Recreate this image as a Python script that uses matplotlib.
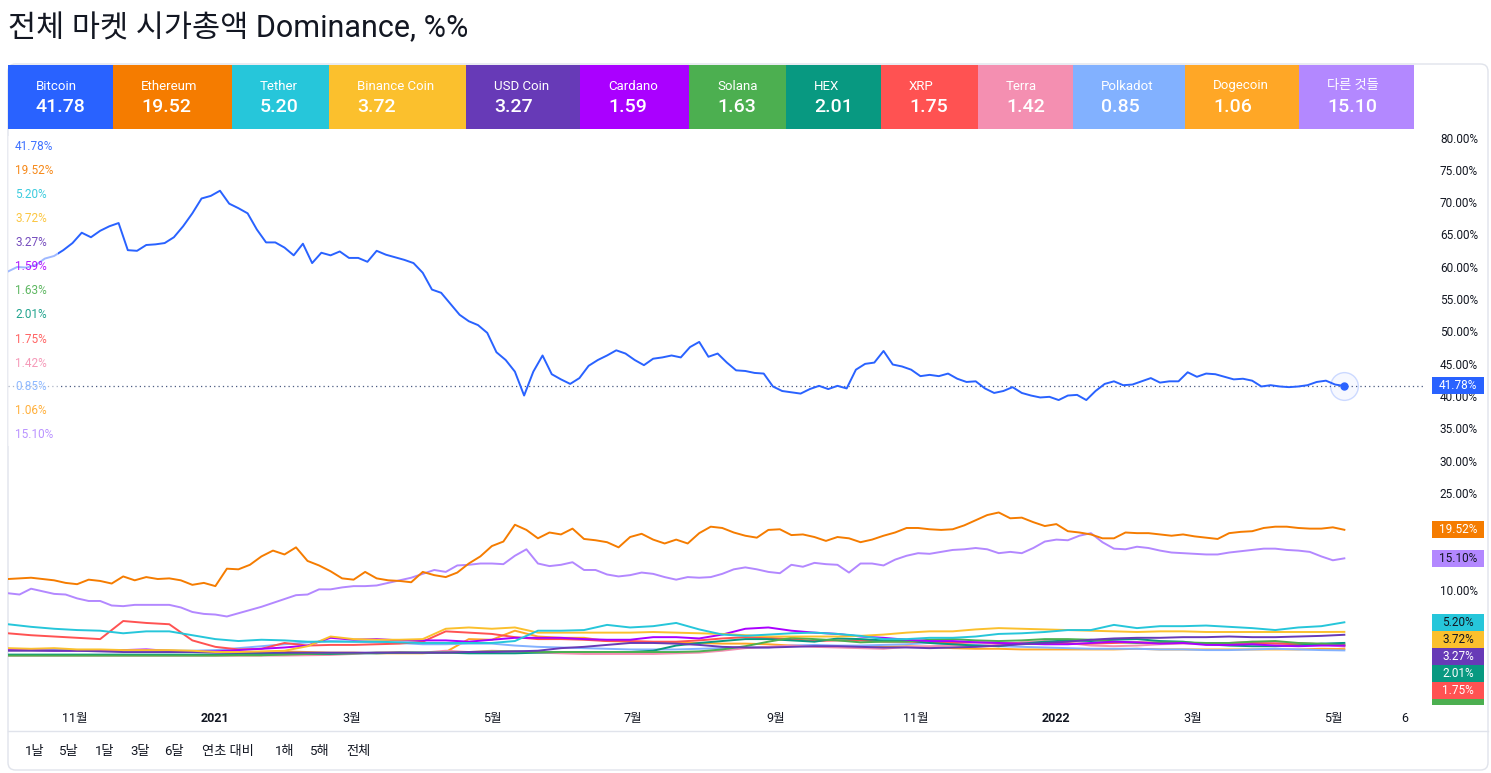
import pandas as pd
import matplotlib.pyplot as plt
from matplotlib.patches import Rectangle, FancyBboxPatch
from matplotlib.lines import Line2D

plt.rcParams['font.family'] = ['Roboto', 'Noto Sans CJK KR', 'DejaVu Sans']

# date span of every series (points are evenly spaced between these)
START, END = '2020-10-03', '2022-05-06'

names = ['Bitcoin', 'Ethereum', 'Tether', 'Binance Coin', 'USD Coin', 'Cardano', 'Solana',
         'HEX', 'XRP', 'Terra', 'Polkadot', 'Dogecoin', '다른 것들']
last_values = [41.78, 19.52, 5.20, 3.72, 3.27, 1.59, 1.63, 2.01, 1.75, 1.42, 0.85, 1.06, 15.10]
colors = ['#2962FF', '#F57C00', '#26C6DA', '#FBC02D', '#673AB7', '#AA00FF', '#4CAF50',
          '#089981', '#FF5252', '#F48FB1', '#82B1FF', '#FFA726', '#B388FF']
dark_text = {'Tether', 'Binance Coin', 'Terra', 'Polkadot', 'Dogecoin', '다른 것들'}

# dominance, %
btc = [59.5, 60.2, 60.1, 60.5, 61.5, 61.9, 62.8, 63.9, 65.5, 64.8,
       65.8, 66.5, 67.0, 62.8, 62.7, 63.6, 63.7, 63.9, 64.8, 66.5,
       68.5, 70.8, 71.2, 72.0, 70.0, 69.3, 68.5, 66.0, 64.0, 64.0,
       63.2, 62.0, 63.8, 60.8, 62.4, 62.0, 62.6, 61.6, 61.6, 61.0,
       62.7, 62.1, 61.7, 61.3, 60.8, 59.3, 56.7, 56.2, 54.5, 52.8,
       51.8, 51.2, 50.0, 47.0, 45.8, 44.0, 40.3, 44.0, 46.5, 43.6,
       42.8, 42.1, 43.0, 44.9, 45.8, 46.5, 47.3, 46.8, 45.8, 45.0,
       46.0, 46.2, 46.5, 46.2, 47.8, 48.6, 46.3, 46.8, 45.4, 44.2,
       44.1, 43.8, 43.7, 41.7, 41.0, 40.8, 40.6, 41.3, 41.8, 41.3,
       41.8, 41.4, 44.3, 45.2, 45.4, 47.2, 45.1, 44.8, 44.3, 43.3,
       43.5, 43.3, 43.7, 42.9, 42.4, 42.5, 41.4, 40.7, 41.0, 41.6,
       40.7, 40.3, 40.0, 40.1, 39.6, 40.3, 40.4, 39.6, 41.0, 42.1,
       42.5, 41.9, 42.0, 42.5, 43.0, 42.3, 42.5, 42.5, 43.9, 43.2,
       43.7, 43.6, 43.2, 42.8, 42.9, 42.6, 41.7, 41.9, 41.7, 41.6,
       41.7, 41.9, 42.4, 42.6, 42.0, 41.78]

eth = [11.9, 12.0, 12.1, 11.9, 11.7, 11.3, 11.1, 11.8, 11.6, 11.2,
       12.3, 11.7, 12.2, 11.9, 12.0, 11.7, 11.0, 11.3, 10.8, 13.5,
       13.4, 14.1, 15.4, 16.3, 15.7, 16.8, 14.7, 14.0, 13.1, 12.0,
       11.8, 13.0, 12.0, 11.7, 11.6, 11.4, 13.0, 12.5, 12.2, 12.9,
       14.3, 15.4, 17.0, 17.7, 20.3, 19.5, 18.2, 19.1, 18.8, 19.7,
       18.1, 17.9, 17.6, 16.8, 18.4, 18.9, 18.0, 17.4, 18.0, 17.4,
       19.0, 20.0, 19.8, 19.1, 18.6, 18.3, 19.5, 19.6, 18.7, 18.8,
       18.4, 17.8, 18.4, 18.2, 17.6, 18.0, 18.6, 19.1, 19.8, 19.8,
       19.6, 19.5, 19.6, 20.2, 21.0, 21.8, 22.2, 21.3, 21.4, 20.7,
       20.1, 20.4, 19.3, 19.1, 18.8, 18.2, 18.2, 19.1, 19.0, 19.0,
       18.8, 18.6, 18.8, 18.5, 18.3, 18.1, 19.0, 19.2, 19.3, 19.8,
       20.0, 20.0, 19.8, 19.7, 19.7, 19.9, 19.52]

others = [9.7, 9.5, 10.4, 10.0, 9.6, 9.5, 8.9, 8.5, 8.5, 7.8,
          7.7, 7.9, 7.9, 7.9, 7.9, 7.5, 6.8, 6.5, 6.4, 6.1,
          6.6, 7.1, 7.6, 8.2, 8.8, 9.4, 9.5, 10.3, 10.3, 10.6,
          10.8, 10.8, 10.9, 11.3, 11.7, 12.1, 12.7, 13.3, 13.0, 14.0,
          14.1, 14.3, 14.3, 14.2, 15.5, 16.5, 14.3, 13.9, 14.1, 14.5,
          13.3, 13.3, 12.6, 12.3, 12.5, 12.9, 12.7, 12.2, 11.8, 12.2,
          12.1, 12.2, 12.7, 13.4, 13.7, 13.4, 13.0, 12.8, 14.1, 13.8,
          14.4, 14.2, 14.1, 12.9, 14.3, 14.3, 14.0, 14.9, 15.5, 15.9,
          15.8, 16.1, 16.4, 16.5, 16.7, 16.5, 15.9, 16.1, 15.9, 16.7,
          17.7, 18.0, 17.9, 18.6, 19.0, 17.6, 16.6, 16.5, 16.9, 16.7,
          16.3, 16.0, 15.9, 15.8, 15.7, 15.7, 16.0, 16.2, 16.4, 16.6,
          16.6, 16.4, 16.3, 16.1, 15.4, 14.8, 15.1]

tether = [4.9, 4.5, 4.2, 4.0, 3.9, 3.5, 3.8, 3.8, 3.2, 2.6,
          2.3, 2.5, 2.4, 2.2, 2.2, 2.2, 2.2, 2.1, 2.0, 2.0,
          2.0, 2.0, 2.3, 3.9, 3.9, 4.0, 4.8, 4.4, 4.6, 5.1,
          4.1, 3.3, 3.1, 3.3, 3.5, 3.6, 3.4, 3.1, 2.6, 2.6,
          2.8, 2.8, 3.0, 3.4, 3.5, 3.7, 4.0, 4.0, 4.8, 4.3,
          4.6, 4.6, 4.7, 4.5, 4.3, 4.0, 4.4, 4.6, 5.2]

bnb = [1.2, 1.1, 1.2, 1.0, 1.0, 0.9, 0.9, 0.9, 0.8, 0.6,
       0.6, 0.7, 0.8, 1.5, 3.0, 2.6, 2.5, 2.5, 2.6, 4.2,
       4.4, 4.2, 4.4, 3.6, 3.6, 3.6, 3.6, 3.6, 3.7, 3.6,
       3.5, 3.4, 3.2, 3.0, 3.0, 3.0, 3.0, 3.1, 3.3, 3.6,
       3.8, 3.8, 4.1, 4.3, 4.2, 4.1, 4.0, 3.9, 3.8, 3.7,
       3.8, 3.8, 3.7, 3.7, 3.7, 3.7, 3.7, 3.7, 3.72]

usdc = [0.8, 0.8, 0.8, 0.8, 0.7, 0.6, 0.6, 0.6, 0.6, 0.5,
        0.5, 0.5, 0.5, 0.5, 0.5, 0.5, 0.5, 0.5, 0.5, 0.5,
        0.6, 0.6, 0.7, 0.8, 1.2, 1.4, 1.7, 2.0, 2.0, 1.9,
        1.7, 1.4, 1.3, 1.3, 1.4, 1.5, 1.5, 1.4, 1.3, 1.3,
        1.2, 1.3, 1.4, 1.6, 1.8, 2.0, 2.2, 2.5, 2.7, 2.8,
        2.8, 2.9, 2.9, 3.0, 2.9, 2.9, 3.0, 3.1, 3.27]

cardano = [0.9, 0.9, 0.8, 0.8, 0.8, 0.9, 1.0, 0.8, 0.7, 0.7,
           0.9, 1.1, 1.3, 1.6, 2.8, 2.5, 2.6, 2.4, 2.4, 2.4,
           2.2, 2.5, 2.8, 2.8, 2.8, 2.6, 2.5, 2.5, 2.9, 2.9,
           2.7, 3.3, 4.2, 4.4, 3.9, 3.6, 3.4, 3.0, 2.8, 2.5,
           2.3, 2.3, 2.1, 2.0, 1.9, 1.8, 1.8, 2.0, 2.2, 2.1,
           1.9, 2.0, 1.7, 1.7, 1.8, 1.6, 1.5, 1.6, 1.59]

solana = [0.05, 0.05, 0.05, 0.05, 0.05, 0.05, 0.05, 0.05, 0.05, 0.05,
          0.1, 0.1, 0.2, 0.3, 0.4, 0.4, 0.5, 0.5, 0.5, 0.5,
          0.6, 0.7, 0.7, 0.6, 0.6, 0.6, 0.6, 0.6, 0.6, 0.6,
          0.7, 1.0, 1.5, 2.2, 2.8, 2.6, 2.4, 2.1, 2.2, 2.2,
          2.5, 2.6, 2.4, 2.3, 2.4, 2.6, 2.6, 2.5, 2.2, 2.0,
          2.1, 2.1, 2.0, 2.0, 2.2, 2.3, 2.0, 1.9, 1.63]

hex_coin = [0.2, 0.2, 0.2, 0.2, 0.2, 0.2, 0.2, 0.2, 0.2, 0.2,
            0.3, 0.3, 0.3, 0.3, 0.3, 0.4, 0.4, 0.5, 0.5, 0.5,
            0.4, 0.4, 0.4, 0.5, 0.6, 0.6, 0.6, 0.6, 0.8, 1.6,
            2.0, 2.3, 2.6, 2.6, 2.4, 2.2, 2.7, 2.6, 2.4, 2.4,
            2.0, 1.8, 1.6, 1.5, 1.9, 2.2, 2.4, 2.3, 2.5, 2.6,
            2.3, 2.2, 1.8, 1.6, 1.5, 1.5, 1.6, 1.9, 2.01]

xrp = [3.5, 3.2, 3.0, 2.8, 2.6, 5.4, 5.1, 4.9, 2.4, 1.4,
       1.0, 1.1, 2.0, 1.6, 1.7, 1.7, 1.8, 1.9, 2.2, 3.8,
       3.6, 3.4, 2.9, 2.6, 2.6, 2.5, 2.3, 2.3, 2.2, 2.2,
       2.4, 2.7, 2.9, 2.8, 2.6, 2.3, 2.4, 2.4, 2.2, 2.2,
       2.1, 2.0, 2.1, 2.0, 1.9, 1.9, 1.9, 1.9, 2.0, 2.1,
       2.0, 2.0, 2.0, 2.0, 2.0, 1.9, 1.8, 1.8, 1.75]

terra = [0.05, 0.05, 0.05, 0.05, 0.05, 0.05, 0.05, 0.05, 0.05, 0.05,
         0.05, 0.05, 0.05, 0.1, 0.15, 0.3, 0.5, 0.6, 0.5, 0.8,
         0.6, 0.8, 0.7, 0.5, 0.4, 0.3, 0.3, 0.3, 0.3, 0.4,
         0.5, 0.8, 1.2, 1.4, 1.6, 1.4, 1.3, 1.2, 1.1, 1.4,
         1.5, 1.6, 1.5, 1.7, 2.1, 2.3, 2.0, 1.6, 1.5, 1.6,
         1.8, 1.9, 1.9, 2.0, 2.2, 2.0, 2.0, 1.8, 1.42]

polkadot = [1.0, 1.0, 1.0, 0.9, 0.9, 0.9, 0.9, 0.8, 0.8, 0.9,
            1.2, 1.5, 1.8, 2.1, 2.3, 2.2, 2.1, 2.0, 1.8, 1.8,
            1.9, 1.9, 1.6, 1.4, 1.3, 1.2, 1.1, 1.0, 1.0, 1.0,
            1.1, 1.2, 1.3, 1.3, 1.6, 1.7, 1.6, 1.6, 1.7, 1.8,
            2.0, 1.8, 1.7, 1.5, 1.4, 1.3, 1.2, 1.1, 1.1, 1.1,
            1.0, 1.0, 0.9, 0.9, 1.0, 1.1, 1.0, 0.9, 0.85]

dogecoin = [0.1, 0.1, 0.1, 0.1, 0.1, 0.1, 0.1, 0.1, 0.1, 0.1,
            0.1, 0.1, 0.7, 0.6, 0.5, 0.5, 0.4, 0.4, 0.4, 0.6,
            2.6, 2.5, 3.9, 3.0, 2.8, 2.8, 2.3, 2.2, 2.1, 2.0,
            2.0, 1.9, 1.9, 1.8, 1.6, 1.5, 1.4, 1.3, 1.4, 1.5,
            1.4, 1.2, 1.1, 1.1, 1.0, 1.0, 1.0, 1.0, 1.0, 1.1,
            1.0, 1.0, 1.0, 1.0, 1.0, 1.0, 1.0, 1.1, 1.06]

series = [btc, eth, tether, bnb, usdc, cardano, solana, hex_coin, xrp, terra,
          polkadot, dogecoin, others]

tick_dates = ['2020-11-01', '2021-01-01', '2021-03-01', '2021-05-01', '2021-07-01',
              '2021-09-01', '2021-11-01', '2022-01-01', '2022-03-01', '2022-05-01', '2022-06-01']
tick_labels = ['11월', '2021', '3월', '5월', '7월', '9월', '11월', '2022', '3월', '5월', '6']
y_ticks = [10, 25, 30, 35, 40, 45, 50, 55, 60, 65, 70, 75, 80]
range_buttons = ['1날', '5날', '1달', '3달', '6달', '연초 대비', '1해', '5해', '전체']

# ---- layout (pixels of the 1491x773 picture)
W, H = 1491, 773
tile_edges = [8, 113, 232, 329, 466, 580, 689, 786, 881, 978, 1073, 1185, 1299, 1414]
button_x = [25, 59, 95, 130, 164, 202, 275, 310, 346]
PLOT_L, PLOT_R, PLOT_T, PLOT_B = 8, 1425, 130, 705
YMIN, YMAX = -7.6, 81.4
TEXT = '#131722'


def fx(px):
    return px / W


def fy(py):
    return 1 - py / H


fig = plt.figure(figsize=(W / 100, H / 100), dpi=100)

# outer card
frame = FancyBboxPatch((fx(8), fy(770)), fx(1480), 706 / H, transform=fig.transFigure,
                       boxstyle='round,pad=0,rounding_size=0.005', mutation_aspect=W / H,
                       fc='white', ec='#e0e3eb', lw=1, zorder=-1)
fig.patches.append(frame)

fig.text(fx(8), fy(28), '전체 마켓 시가총액 Dominance, %%', fontsize=22, va='center', color=TEXT)

# header tiles
for i, name in enumerate(names):
    x0, x1 = tile_edges[i], tile_edges[i + 1]
    fig.patches.append(Rectangle((fx(x0), fy(129)), (x1 - x0) / W, 64 / H,
                                 transform=fig.transFigure, fc=colors[i], ec='none', zorder=1))
    fig.text(fx(x0 + 28), fy(86), name, color='white', fontsize=9.5, va='center')
    fig.text(fx(x0 + 28), fy(107), f'{last_values[i]:.2f}', color='white', fontsize=14,
             fontweight='medium', va='center')

# main pane
ax = fig.add_axes([fx(PLOT_L), fy(PLOT_B), (PLOT_R - PLOT_L) / W, (PLOT_B - PLOT_T) / H])
ax.set_facecolor('none')
for s in ax.spines.values():
    s.set_visible(False)

for i in reversed(range(len(series))):
    vals = series[i]
    dates = pd.date_range(START, END, periods=len(vals))
    ax.plot(dates, vals, color=colors[i], lw=1.4, solid_joinstyle='round', zorder=2 + (i == 0))

btc_dates = pd.date_range(START, END, periods=len(btc))
ax.axhline(btc[-1], color='#4a5a80', lw=0.9, ls=(0, (1, 2.5)), zorder=1)
ax.plot(btc_dates[-1], btc[-1], 'o', ms=20, mfc=(0.16, 0.38, 1, 0.04),
        mec=(0.16, 0.38, 1, 0.22), mew=1, zorder=4)
ax.plot(btc_dates[-1], btc[-1], 'o', ms=5, color=colors[0], zorder=5)

ax.set_xlim(pd.Timestamp('2020-10-03'), pd.Timestamp('2022-06-10'))
ax.set_ylim(YMIN, YMAX)
ax.set_yticks([])
ax.set_xticks(pd.to_datetime(tick_dates))
ax.set_xticklabels(tick_labels, fontsize=9, color=TEXT)
for lbl in ax.get_xticklabels():
    if lbl.get_text() in ('2021', '2022'):
        lbl.set_fontweight('bold')
ax.tick_params(axis='x', length=0, pad=5)

# translucent legend column on the left
fig.patches.append(Rectangle((fx(8), fy(446)), 50 / W, 310 / H, transform=fig.transFigure,
                             fc='white', ec='none', alpha=0.55, zorder=1))
for i, v in enumerate(last_values):
    fig.text(fx(15), fy(147 + 24 * i), f'{v:.2f}%', color=colors[i], fontsize=8.5,
             va='center', alpha=0.9)

# price scale on the right
ax2 = fig.add_axes([fx(PLOT_R), fy(PLOT_B), (1488 - PLOT_R) / W, (PLOT_B - PLOT_T) / H])
ax2.set_xlim(0, 1)
ax2.set_ylim(YMIN, YMAX)
ax2.axis('off')
for v in y_ticks:
    ax2.text(0.84, v, f'{v:.2f}%', ha='right', va='center', fontsize=8.5, color=TEXT)

# last-value badges, stacked downwards so they do not overlap
badge_h = 17 * (YMAX - YMIN) / (PLOT_B - PLOT_T)
order = sorted(range(len(last_values)), key=lambda k: -last_values[k])
prev = None
for k in order:
    pos = last_values[k] if prev is None else min(last_values[k], prev - badge_h)
    prev = pos
    if pos + badge_h / 2 < YMIN:
        break
    ax2.add_patch(Rectangle((0.11, pos - badge_h / 2), 0.83, badge_h, fc=colors[k],
                            ec='none', zorder=3, clip_on=True))
    if pos - badge_h / 2 >= YMIN:
        ax2.text(0.525, pos, f'{last_values[k]:.2f}%', ha='center', va='center', fontsize=8.5,
                 color=TEXT if names[k] in dark_text else 'white', zorder=4)

# bottom separator and range buttons
fig.lines.append(Line2D([fx(8), fx(1488)], [fy(731), fy(731)], transform=fig.transFigure,
                        color='#e0e3eb', lw=1))
for bx, b in zip(button_x, range_buttons):
    fig.text(fx(bx), fy(751), b, fontsize=9.5, va='center', color=TEXT)

fig.savefig('out.png', dpi=100)
